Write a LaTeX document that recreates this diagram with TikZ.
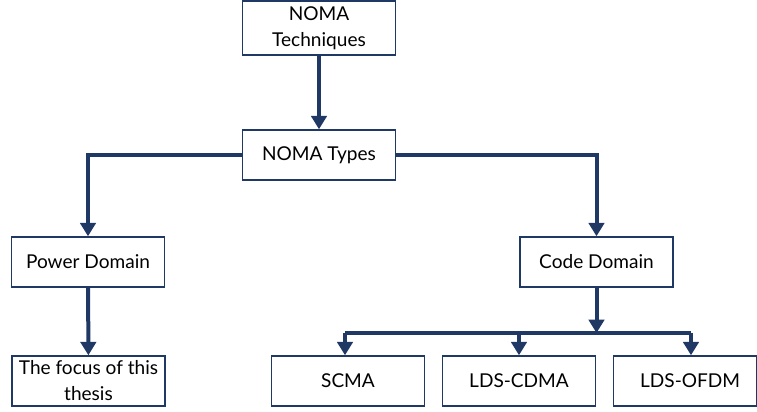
\documentclass[tikz,border=0pt]{standalone}
\usepackage{fontspec}
\setmainfont{Lato}
\usepackage{tikz}
\usetikzlibrary{arrows.meta}
\definecolor{navy}{HTML}{1F3864}
\tikzset{>={Triangle[width=11.5pt,length=10pt]}}

\begin{document}
\begin{tikzpicture}[x=0.75pt, y=-0.75pt,
    box/.style={draw=navy, line width=1.1pt, fill=white, minimum width=115pt,
                minimum height=37.5pt, align=center, font=\fontsize{14.3}{19.5}\selectfont,
                inner sep=1pt},
    conn/.style={navy, line width=3pt}]
    \useasboundingbox (0, 0) rectangle (757, 411);
    % boxes
    \node[box, minimum height=40.5pt] (tech) at (319, 28) {NOMA\\Techniques};
    \node[box] (types) at (319, 155) {NOMA Types};
    \node[box] (power) at (88, 262) {Power Domain};
    \node[box] (code) at (596.5, 262) {Code Domain};
    \node[box] (focus) at (88.5, 381) {The focus of this\\thesis};
    \node[box] (scma) at (348, 381) {SCMA};
    \node[box] (ldscdma) at (519, 381) {LDS-CDMA};
    \node[box, minimum width=107.5pt, anchor=west] (ldsofdm) at (613, 381) {\hspace*{7pt}LDS-OFDM};
    % connectors
    \coordinate (bar) at (596.5, 333);
    \coordinate (barl) at (345, 333);
    \coordinate (barr) at (691, 333);
    \draw[conn, ->] (tech) -- (types);
    \draw[conn, ->] (types.west) -| (power.north);
    \draw[conn, ->] (types.east) -| (code.north);
    \draw[conn, ->] (power) -- (focus);
    \draw[conn, ->] (code) -- (bar);
    \draw[conn] (barl) -- (barr);
    \draw[conn, ->] (barl) -- (barl |- scma.north);
    \draw[conn, ->] (ldscdma.north |- bar) -- (ldscdma.north);
    \draw[conn, ->] (barr) -- (barr |- ldsofdm.north);
\end{tikzpicture}
\end{document}
